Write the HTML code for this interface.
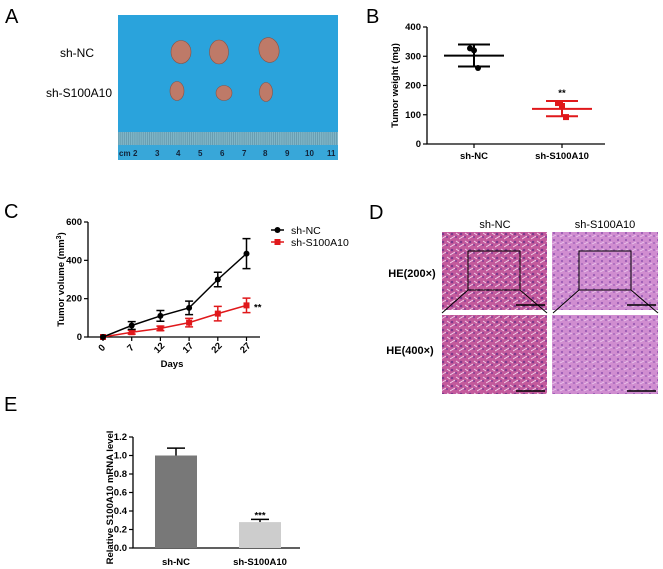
<!DOCTYPE html>
<html><head><meta charset="utf-8">
<style>
body{margin:0;background:#fff;}
svg{display:block;font-family:"Liberation Sans",Arial,sans-serif;}
.ax{stroke:#000;stroke-width:1.3;fill:none}
.t{font-size:9.5px;font-weight:bold}
.lbl{font-size:20px}
</style></head>
<body>
<svg id="fig" width="663" height="569" viewBox="0 0 663 569">
<defs>
<pattern id="cellsA" width="9" height="8" patternUnits="userSpaceOnUse">
<rect width="9" height="8" fill="#c35a9c"/>
<circle cx="2" cy="2" r="1.3" fill="#7d3a8c"/><circle cx="6" cy="5" r="1.1" fill="#8e4196"/>
<path d="M0 7 L5 4 M6 1 L9 3" stroke="#f3d6ee" stroke-width="0.9"/>
</pattern>
<pattern id="cellsB" width="8" height="7" patternUnits="userSpaceOnUse">
<rect width="8" height="7" fill="#d08dd0"/>
<circle cx="2" cy="2" r="1.1" fill="#9a5cb4"/><circle cx="6" cy="5" r="1" fill="#a468bb"/>
<path d="M0 6 L4 4" stroke="#ecc9ee" stroke-width="0.7"/>
</pattern>
<pattern id="ruler" width="2.1" height="10" patternUnits="userSpaceOnUse">
<rect width="2.1" height="10" fill="#7fb6c8"/><line x1="0.5" y1="0" x2="0.5" y2="10" stroke="#5a8ea2" stroke-width="0.6"/>
</pattern>
</defs>

<!-- Panel A -->
<text class="lbl" x="5" y="23">A</text>
<text x="77" y="57" font-size="12" text-anchor="middle">sh-NC</text>
<text x="79" y="97" font-size="12" text-anchor="middle">sh-S100A10</text>
<g>
<rect x="118" y="15" width="220" height="145" fill="#2aa3dc"/>
<rect x="118" y="132" width="220" height="13" fill="url(#ruler)"/>
<rect x="118" y="145" width="220" height="15" fill="#38a7d9"/>
<g font-size="8" fill="#12243a" font-weight="bold">
<text x="119" y="156">cm</text><text x="133" y="156">2</text><text x="155" y="156">3</text><text x="176" y="156">4</text><text x="198" y="156">5</text><text x="220" y="156">6</text><text x="242" y="156">7</text><text x="263" y="156">8</text><text x="285" y="156">9</text><text x="305" y="156">10</text><text x="327" y="156">11</text>
</g>
<g fill="#be7a68" stroke="#8e5040" stroke-width="0.6">
<ellipse cx="181" cy="52" rx="10" ry="11.5"/><ellipse cx="219" cy="52" rx="9.5" ry="12"/><ellipse cx="269" cy="50" rx="10" ry="12.5" transform="rotate(-12 269 50)"/>
<ellipse cx="177" cy="91" rx="7" ry="9.5"/><ellipse cx="224" cy="93" rx="8" ry="7.5"/><ellipse cx="266" cy="92" rx="6.5" ry="9.5"/>
</g>
</g>

<!-- Panel B -->
<text class="lbl" x="366" y="23">B</text>
<g id="chartB"></g>

<!-- Panel C -->
<text class="lbl" x="4" y="218">C</text>
<g id="chartC"></g>

<!-- Panel D -->
<text class="lbl" x="369" y="219">D</text>
<g>
<text x="495" y="228" font-size="11" text-anchor="middle">sh-NC</text>
<text x="605" y="228" font-size="11" text-anchor="middle">sh-S100A10</text>
<text x="412" y="277" font-size="11" font-weight="bold" text-anchor="middle">HE(200×)</text>
<text x="410" y="354" font-size="11" font-weight="bold" text-anchor="middle">HE(400×)</text>
<rect x="442" y="232" width="105" height="78" fill="url(#cellsA)"/>
<rect x="552" y="232" width="106" height="78" fill="url(#cellsB)"/>
<rect x="442" y="315" width="105" height="79" fill="url(#cellsA)"/>
<rect x="552" y="315" width="106" height="79" fill="url(#cellsB)"/>
<g stroke="#000" stroke-width="1" fill="none">
<rect x="468" y="251" width="52" height="39"/><path d="M468 290 L442 313 M520 290 L547 313"/>
<rect x="579" y="251" width="52" height="39"/><path d="M579 290 L553 313 M631 290 L658 313"/>
<path d="M516 305 L545 305 M627 305 L656 305 M516 391 L545 391 M627 391 L656 391" stroke-width="1.5"/>
</g>
</g>

<!-- Panel E -->
<text class="lbl" x="4" y="411">E</text>
<g id="chartE"></g>
</svg>

<script>
// ---------- Panel B data ----------
const bCategories = ["sh-NC", "sh-S100A10"];
const bMeans = [302, 120];
const bLow = [265, 95];
const bHigh = [340, 147];
const bPoints = [[327, 320, 260], [140, 130, 92]];
const bTicks = [0, 100, 200, 300, 400];

// ---------- Panel C data ----------
const cDays = ["0", "7", "12", "17", "22", "27"];
const cNC = [0, 60, 110, 152, 300, 435];
const cNCerr = [0, 20, 28, 35, 38, 78];
const cS = [0, 25, 45, 75, 122, 165];
const cSerr = [0, 10, 12, 22, 38, 38];
const cTicks = [0, 200, 400, 600];

// ---------- Panel E data ----------
const eCategories = ["sh-NC", "sh-S100A10"];
const eValues = [1.0, 0.28];
const eErr = [0.08, 0.03];
const eTicks = ["0.0", "0.2", "0.4", "0.6", "0.8", "1.0", "1.2"];

const NS = "http://www.w3.org/2000/svg";
function mk(parent, tag, attrs, text) {
  const e = document.createElementNS(NS, tag);
  for (const k in attrs) e.setAttribute(k, attrs[k]);
  if (text !== undefined) e.textContent = text;
  parent.appendChild(e);
  return e;
}

// ===== Panel B =====
(function () {
  const g = document.getElementById('chartB');
  const x0 = 427, y0 = 144, y1 = 27, xEnd = 605;
  const yS = v => y0 - (v / 400) * (y0 - y1);
  const xS = i => [474, 562][i];
  let e = mk(g, 'path', { d: `M${x0} ${y1} L${x0} ${y0} L${xEnd} ${y0}`, class: 'ax' });
  
  
  bTicks.forEach(t => {
    mk(g, 'line', { x1: x0 - 4, x2: x0, y1: yS(t), y2: yS(t), stroke: '#000', 'stroke-width': 1.2 });
    e = mk(g, 'text', { x: x0 - 6, y: yS(t) + 3, class: 't', 'text-anchor': 'end' }, t);
    
    
  });
  e = mk(g, 'text', { x: 0, y: 0, class: 't', 'font-size': 10, 'text-anchor': 'middle', transform: `translate(398 ${(y0 + y1) / 2}) rotate(-90)` }, 'Tumor weight (mg)');
  
  
  bCategories.forEach((c, i) => {
    const col = i === 0 ? '#000' : '#e0181b';
    const x = xS(i);
    mk(g, 'line', { x1: x, x2: x, y1: y0, y2: y0 + 4, stroke: '#000', 'stroke-width': 1.2 });
    e = mk(g, 'text', { x: x, y: 159, class: 't', 'text-anchor': 'middle' }, c);
    
    
    e = mk(g, 'path', {
      d: `M${x - 30} ${yS(bMeans[i])} L${x + 30} ${yS(bMeans[i])} M${x} ${yS(bLow[i])} L${x} ${yS(bHigh[i])} M${x - 16} ${yS(bLow[i])} L${x + 16} ${yS(bLow[i])} M${x - 16} ${yS(bHigh[i])} L${x + 16} ${yS(bHigh[i])}`,
      stroke: col, 'stroke-width': 2, fill: 'none'
    });
    
    
    bPoints[i].forEach((p, j) => {
      const px = x + (j - 1) * 4;
      if (i === 0) e = mk(g, 'circle', { cx: px, cy: yS(p), r: 3, fill: col });
      else e = mk(g, 'rect', { x: px - 3, y: yS(p) - 3, width: 6, height: 6, fill: col });
      
      
    });
  });
  e = mk(g, 'text', { x: xS(1), y: yS(bHigh[1]) - 5, class: 't', 'font-size': 10, 'text-anchor': 'middle' }, '**');
  
  
})();

// ===== Panel C =====
(function () {
  const g = document.getElementById('chartC');
  const x0 = 88, y0 = 337, y1 = 222, xEnd = 260;
  const yS = v => y0 - (v / 600) * (y0 - y1);
  const xS = i => 103 + i * 28.7;
  let e = mk(g, 'path', { d: `M${x0} ${y1} L${x0} ${y0} L${xEnd} ${y0}`, class: 'ax' });
  
  
  cTicks.forEach(t => {
    mk(g, 'line', { x1: x0 - 4, x2: x0, y1: yS(t), y2: yS(t), stroke: '#000', 'stroke-width': 1.2 });
    e = mk(g, 'text', { x: x0 - 6, y: yS(t) + 3, class: 't', 'text-anchor': 'end' }, t);
    
    
  });
  cDays.forEach((d, i) => {
    mk(g, 'line', { x1: xS(i), x2: xS(i), y1: y0, y2: y0 + 4, stroke: '#000', 'stroke-width': 1.2 });
    e = mk(g, 'text', { x: 0, y: 0, class: 't', 'text-anchor': 'middle', transform: `translate(${xS(i) + 1} ${y0 + 13}) rotate(-45)` }, d);
    
    
  });
  e = mk(g, 'text', { x: 172, y: 367, class: 't', 'text-anchor': 'middle', 'font-size': 10.5 }, 'Days');
  
  
  e = mk(g, 'text', { x: 0, y: 0, class: 't', 'font-size': 10, 'text-anchor': 'middle', transform: `translate(64 ${(y0 + y1) / 2}) rotate(-90)` });
  e.innerHTML = 'Tumor volume (mm<tspan baseline-shift="super" font-size="7">3</tspan>)';
  
  
  function series(vals, errs, col, square, name) {
    let pts = vals.map((v, i) => `${xS(i)},${yS(v)}`).join(' ');
    let s = mk(g, 'polyline', { points: pts, fill: 'none', stroke: col, 'stroke-width': 1.5 });
    
    
    vals.forEach((v, i) => {
      const x = xS(i);
      if (errs[i] > 0) {
        s = mk(g, 'path', { d: `M${x} ${yS(v - errs[i])} L${x} ${yS(v + errs[i])} M${x - 4} ${yS(v - errs[i])} L${x + 4} ${yS(v - errs[i])} M${x - 4} ${yS(v + errs[i])} L${x + 4} ${yS(v + errs[i])}`, stroke: col, 'stroke-width': 1.5, fill: 'none' });
        
        
      }
      if (square) s = mk(g, 'rect', { x: x - 3, y: yS(v) - 3, width: 6, height: 6, fill: col });
      else s = mk(g, 'circle', { cx: x, cy: yS(v), r: 3, fill: col });
      
      
    });
  }
  series(cS, cSerr, '#e0181b', true, 'c-sh-s100a10');
  series(cNC, cNCerr, '#000', false, 'c-sh-nc');
  e = mk(g, 'text', { x: 254, y: yS(cS[5]) + 5, class: 't', 'font-size': 11 }, '**');
  
  
  // legend
  mk(g, 'line', { x1: 271, x2: 284, y1: 230, y2: 230, stroke: '#000', 'stroke-width': 1.5 });
  mk(g, 'circle', { cx: 277.5, cy: 230, r: 3, fill: '#000' });
  e = mk(g, 'text', { x: 291, y: 234, 'font-size': 10.5 }, 'sh-NC');
  
  
  mk(g, 'line', { x1: 271, x2: 284, y1: 242, y2: 242, stroke: '#e0181b', 'stroke-width': 1.5 });
  mk(g, 'rect', { x: 274.5, y: 239, width: 6, height: 6, fill: '#e0181b' });
  e = mk(g, 'text', { x: 291, y: 246, 'font-size': 10.5 }, 'sh-S100A10');
  
  
})();

// ===== Panel E =====
(function () {
  const g = document.getElementById('chartE');
  const x0 = 133, y0 = 548, y1 = 437, xEnd = 300;
  const yS = v => y0 - (v / 1.2) * (y0 - y1);
  const bx = [155, 239], bw = 42;
  const cols = ['#787878', '#cdcdcd'];
  let e = mk(g, 'path', { d: `M${x0} ${y1} L${x0} ${y0} L${xEnd} ${y0}`, class: 'ax' });
  
  
  eTicks.forEach(t => {
    const v = parseFloat(t);
    mk(g, 'line', { x1: x0 - 4, x2: x0, y1: yS(v), y2: yS(v), stroke: '#000', 'stroke-width': 1.2 });
    e = mk(g, 'text', { x: x0 - 6, y: yS(v) + 3, class: 't', 'text-anchor': 'end' }, t);
    
    
  });
  e = mk(g, 'text', { x: 0, y: 0, class: 't', 'font-size': 9, 'text-anchor': 'middle', transform: `translate(113 ${(y0 + y1) / 2 + 5}) rotate(-90)` }, 'Relative S100A10 mRNA level');
  
  
  eCategories.forEach((c, i) => {
    const cx = bx[i] + bw / 2;
    e = mk(g, 'path', { d: `M${cx} ${yS(eValues[i])} L${cx} ${yS(eValues[i] + eErr[i])} M${cx - 9} ${yS(eValues[i] + eErr[i])} L${cx + 9} ${yS(eValues[i] + eErr[i])}`, stroke: '#000', 'stroke-width': 1.5 });
    
    
    e = mk(g, 'rect', { x: bx[i], y: yS(eValues[i]), width: bw, height: y0 - yS(eValues[i]), fill: cols[i] });
    
    
    e = mk(g, 'text', { x: cx, y: 565, class: 't', 'text-anchor': 'middle' }, c);
    
    
  });
  e = mk(g, 'text', { x: bx[1] + bw / 2, y: yS(eValues[1] + eErr[1]) - 1, class: 't', 'text-anchor': 'middle' }, '***');
  
  
})();
</script>
</body></html>
